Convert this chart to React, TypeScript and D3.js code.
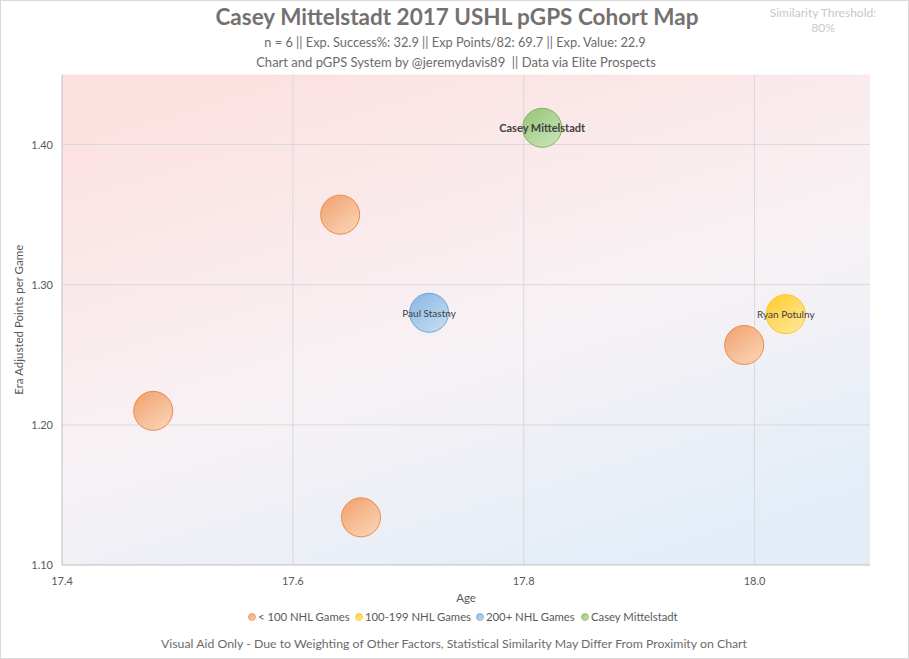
import React from "react";
import * as d3 from "d3";

// cohort data
const players = ["", "", "Paul Stastny", "Ryan Potulny", "", "", "Casey Mittelstadt"];
const ages = [17.641, 17.479, 17.718, 18.027, 17.991, 17.659, 17.816];
const ppg = [1.35, 1.21, 1.28, 1.279, 1.257, 1.134, 1.412];
const groups = [0, 0, 2, 1, 0, 0, 3];
const bubbleSize = [1, 1, 1, 1, 1, 1, 1];

const groupNames = ["< 100 NHL Games", "100-199 NHL Games", "200+ NHL Games", "Casey Mittelstadt"];
const xTicks = [17.4, 17.6, 17.8, 18.0];
const yTicks = [1.1, 1.2, 1.3, 1.4];

const fills = [
  ["#f2a878", "#f9d0b0", "#ee8a48"],
  ["#ffd03c", "#ffe590", "#ffc61a"],
  ["#91bbe4", "#c0daf1", "#6fa6da"],
  ["#9cc97f", "#c6e1b3", "#7db65a"],
];

const W = 909;
const H = 659;
const margin = { top: 74.5, right: 39, bottom: 94, left: 62 };
const font = "Lato, 'Open Sans', sans-serif";

export default function App() {
  const x = d3.scaleLinear().domain([17.4, 18.1]).range([margin.left, W - margin.right]);
  const y = d3.scaleLinear().domain([1.1, 1.45]).range([H - margin.bottom, margin.top]);
  const r = d3.scaleSqrt().domain([0, 1]).range([0, 19.5]);
  const pw = W - margin.left - margin.right;
  const ph = H - margin.top - margin.bottom;

  const pts = ages.map((a, i) => ({ age: a, v: ppg[i], g: groups[i], s: bubbleSize[i], name: players[i] }));

  const legendX = [248, 355, 476, 581];

  return (
    <svg
      width={W}
      height={H}
      style={{ position: "absolute", left: 0, top: 0, background: "#fff" }}
      fontFamily={font}
    >
      <defs>
        <linearGradient id="bg" x1="0.25" y1="0" x2="0.75" y2="1">
          <stop offset="0" stopColor="#fde1e1" />
          <stop offset="0.55" stopColor="#f7f2f5" />
          <stop offset="1" stopColor="#e2edf8" />
        </linearGradient>
        {fills.map((f, i) => (
          <linearGradient key={i} id={`b${i}`} x1="0.2" y1="0.1" x2="0.8" y2="0.9">
            <stop offset="0" stopColor={f[0]} />
            <stop offset="1" stopColor={f[1]} />
          </linearGradient>
        ))}
      </defs>
      <rect x={0.5} y={0.5} width={W - 1} height={H - 1} fill="#fff" stroke="#d9d9d9" />

      {/* plot area */}
      <rect x={margin.left} y={margin.top} width={pw} height={ph} fill="url(#bg)" />
      {xTicks.slice(1).map((t) => (
        <line key={t} x1={x(t)} x2={x(t)} y1={margin.top} y2={H - margin.bottom} stroke="#d9d9d9" />
      ))}
      {yTicks.slice(1).map((t) => (
        <line key={t} x1={margin.left} x2={W - margin.right} y1={y(t)} y2={y(t)} stroke="#d9d9d9" />
      ))}
      <line x1={margin.left} x2={margin.left} y1={margin.top} y2={H - margin.bottom} stroke="#bfbfbf" />
      <line x1={margin.left} x2={W - margin.right} y1={H - margin.bottom} y2={H - margin.bottom} stroke="#bfbfbf" />

      {yTicks.map((t) => (
        <text key={t} x={margin.left - 9} y={y(t) + 4} textAnchor="end" fontSize={11} fill="#595959">
          {d3.format(".2f")(t)}
        </text>
      ))}
      {xTicks.map((t) => (
        <text key={t} x={x(t)} y={H - margin.bottom + 20} textAnchor="middle" fontSize={11} fill="#595959">
          {d3.format(".1f")(t)}
        </text>
      ))}

      <text
        transform={`translate(23,${margin.top + ph / 2}) rotate(-90)`}
        textAnchor="middle"
        fontSize={11.5}
        fill="#595959"
      >
        Era Adjusted Points per Game
      </text>
      <text x={466} y={602} textAnchor="middle" fontSize={11.5} fill="#595959">
        Age
      </text>

      {/* bubbles */}
      {pts.map((p, i) => (
        <circle
          key={i}
          cx={x(p.age)}
          cy={y(p.v)}
          r={r(p.s)}
          fill={`url(#b${p.g})`}
          stroke={fills[p.g][2]}
          strokeWidth={1}
        />
      ))}
      {pts.map((p, i) =>
        p.name ? (
          <text
            key={i}
            x={x(p.age)}
            y={y(p.v) + 4}
            textAnchor="middle"
            fontSize={p.g === 3 ? 11 : 10}
            fontWeight={p.g === 3 ? "bold" : "normal"}
            fill="#404040"
          >
            {p.name}
          </text>
        ) : null
      )}

      {/* titles */}
      <text x={457} y={25} textAnchor="middle" fontSize={22.5} fontWeight="bold" fill="#767171">
        Casey Mittelstadt 2017 USHL pGPS Cohort Map
      </text>
      <text x={455} y={47} textAnchor="middle" fontSize={12.8} fill="#6b6b6b">
        n = 6 || Exp. Success%: 32.9 || Exp Points/82: 69.7 || Exp. Value: 22.9
      </text>
      <text x={456} y={67} textAnchor="middle" fontSize={13} fill="#6b6b6b">
        Chart and pGPS System by @jeremydavis89 {"\u00a0"}|| Data via Elite Prospects
      </text>
      <text x={823} y={17} textAnchor="middle" fontSize={12} fill="#c8c8c8">
        Similarity Threshold:
      </text>
      <text x={823} y={32} textAnchor="middle" fontSize={12} fill="#c8c8c8">
        80%
      </text>

      {/* legend */}
      {groupNames.map((n, i) => (
        <g key={n} transform={`translate(${legendX[i]},617)`}>
          <circle cx={4} cy={0} r={3.5} fill={`url(#b${i})`} stroke={fills[i][2]} strokeWidth={0.7} />
          <text x={10} y={4} fontSize={11.3} fill="#595959">
            {n}
          </text>
        </g>
      ))}

      <text x={454} y={648} textAnchor="middle" fontSize={12.3} fill="#6b6b6b">
        Visual Aid Only - Due to Weighting of Other Factors, Statistical Similarity May Differ From Proximity on Chart
      </text>
    </svg>
  );
}
